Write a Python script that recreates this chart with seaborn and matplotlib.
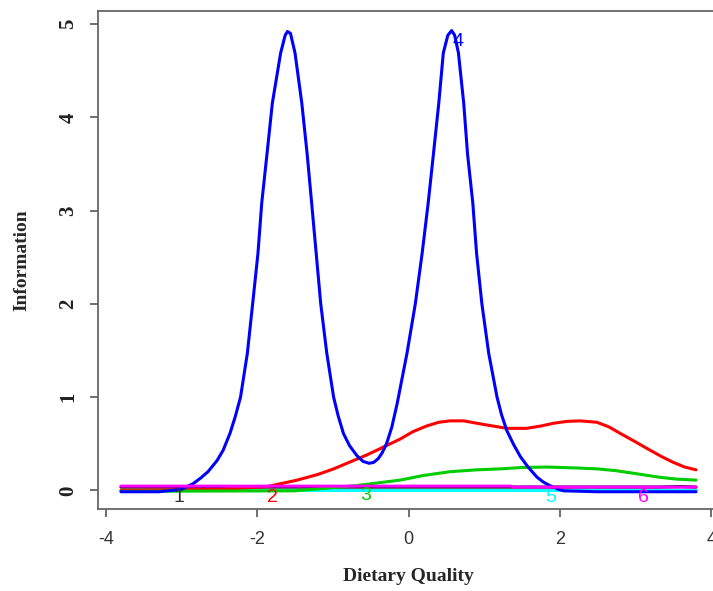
import pandas as pd
import seaborn as sns
import matplotlib.pyplot as plt

# Item information curves
item1_x = [-3.8, -2.0, 0.0, 2.0, 3.3, 3.6, 3.8]
item1_y = [0.035, 0.035, 0.035, 0.035, 0.035, 0.04, 0.035]

item2_x = [-3.8, -2.5, -1.87, -1.47, -1.2, -0.99, -0.55, -0.29, -0.11, 0.06, 0.24, 0.40,
           0.55, 0.73, 0.90, 1.04, 1.30, 1.56, 1.75, 1.92, 2.10, 2.27, 2.49, 2.65,
           2.80, 3.00, 3.15, 3.35, 3.50, 3.65, 3.80]
item2_y = [0.0, 0.01, 0.04, 0.11, 0.17, 0.23, 0.38, 0.48, 0.55, 0.63, 0.69, 0.73,
           0.745, 0.745, 0.72, 0.70, 0.665, 0.665, 0.69, 0.72, 0.74, 0.745, 0.73, 0.68,
           0.61, 0.52, 0.45, 0.36, 0.30, 0.25, 0.22]

item3_x = [-3.8, -1.5, -0.7, -0.4, -0.11, 0.2, 0.55, 0.9, 1.21, 1.5, 1.83, 2.22,
           2.5, 2.75, 3.0, 3.32, 3.55, 3.8]
item3_y = [-0.01, -0.005, 0.05, 0.08, 0.11, 0.16, 0.20, 0.22, 0.23, 0.245, 0.25, 0.24,
           0.23, 0.21, 0.18, 0.14, 0.12, 0.11]

item4_x = [-3.8, -3.3, -3.0, -2.93, -2.85, -2.75, -2.65, -2.53, -2.45, -2.36, -2.29,
           -2.22, -2.13, -2.06, -1.99, -1.94, -1.87, -1.80, -1.69, -1.63, -1.60, -1.56,
           -1.50, -1.41, -1.34, -1.28, -1.22, -1.16, -1.08, -0.99, -0.93, -0.86, -0.78,
           -0.68, -0.60, -0.52, -0.46, -0.40, -0.35, -0.29, -0.22, -0.15, -0.02, 0.09,
           0.18, 0.26, 0.33, 0.40, 0.46, 0.52, 0.57, 0.61, 0.66, 0.73, 0.78, 0.85,
           0.90, 0.97, 1.06, 1.17, 1.23, 1.30, 1.39, 1.48, 1.58, 1.70, 1.78, 1.87,
           1.95, 2.05, 2.5, 3.8]
item4_y = [-0.015, -0.015, 0.01, 0.04, 0.07, 0.13, 0.20, 0.32, 0.43, 0.61, 0.79,
           1.00, 1.47, 2.00, 2.54, 3.08, 3.61, 4.15, 4.69, 4.88, 4.92, 4.90,
           4.69, 4.15, 3.61, 3.08, 2.54, 2.00, 1.47, 1.00, 0.80, 0.61, 0.48,
           0.37, 0.31, 0.29, 0.30, 0.34, 0.40, 0.50, 0.68, 0.93, 1.47, 2.00,
           2.54, 3.08, 3.61, 4.15, 4.69, 4.88, 4.93, 4.88, 4.69, 4.15, 3.61, 3.08,
           2.54, 2.00, 1.47, 1.00, 0.81, 0.64, 0.49, 0.36, 0.25, 0.14, 0.09, 0.05,
           0.02, -0.005, -0.015, -0.015]

item5_x = [-3.8, 0.0, 3.8]
item5_y = [0.005, 0.005, 0.005]

item6_x = [-3.8, 0.0, 1.35, 1.4, 3.8]
item6_y = [0.045, 0.045, 0.045, 0.035, 0.035]

item_names = ["1", "2", "3", "4", "5", "6"]
item_colors = ["black", "red", "#00CD00", "blue", "cyan", "magenta"]
label_x = [-3.04, -1.80, -0.57, 0.65, 1.88, 3.10]
label_y = [-0.08, -0.08, -0.05, 4.81, -0.08, -0.08]
draw_order = ["1", "5", "2", "3", "4", "6"]

xs = [item1_x, item2_x, item3_x, item4_x, item5_x, item6_x]
ys = [item1_y, item2_y, item3_y, item4_y, item5_y, item6_y]
df = pd.concat([pd.DataFrame({"theta": x, "info": y, "item": n})
                for x, y, n in zip(xs, ys, item_names)])

sns.set_theme(style="white")
plt.rcParams['font.family'] = ['Liberation Sans', 'DejaVu Sans']

fig = plt.figure(figsize=(7.13, 5.91), dpi=100)
ax = fig.add_axes([98 / 713, 82 / 591, 621 / 713, 498 / 591])

sns.lineplot(data=df, x="theta", y="info", hue="item", hue_order=draw_order,
             palette=dict(zip(item_names, item_colors)),
             estimator=None, sort=False, linewidth=2.2, legend=False, ax=ax)

for n, c, tx, ty in zip(item_names, item_colors, label_x, label_y):
    ax.text(tx, ty, n, color=c if c != "black" else "#333333", fontsize=14,
            ha="center", va="center")

ax.set_xlim(-4.104, 4.104)
ax.set_ylim(-0.2, 5.14)
ax.set_xticks([-4, -2, 0, 2, 4])
ax.set_yticks([0, 1, 2, 3, 4, 5])
ax.set_xticklabels(["-4", "-2", "0", "2", "4"], fontsize=13, color="#333333")
ax.set_yticklabels(["0", "1", "2", "3", "4", "5"], rotation=90, va="center",
                   fontsize=15, fontweight="bold", family="Liberation Serif",
                   color="#222222")
ax.tick_params(axis="both", direction="out", length=6, width=1.2, color="#555555",
               bottom=True, left=True)
ax.tick_params(axis="x", pad=10)
ax.tick_params(axis="y", pad=8)

for side in ["left", "bottom", "top"]:
    ax.spines[side].set_color("#666666")
    ax.spines[side].set_linewidth(1.3)
ax.spines["right"].set_visible(False)

ax.set_xlabel("Dietary Quality", fontsize=14, fontweight="bold",
              family="Liberation Serif", va="center")
ax.set_ylabel("Information", fontsize=14, fontweight="bold",
              family="Liberation Serif", va="center")
ax.xaxis.set_label_coords(0.5, -0.1365)
ax.yaxis.set_label_coords(-0.1224, 0.5)

fig.savefig("out.png", dpi=100)
